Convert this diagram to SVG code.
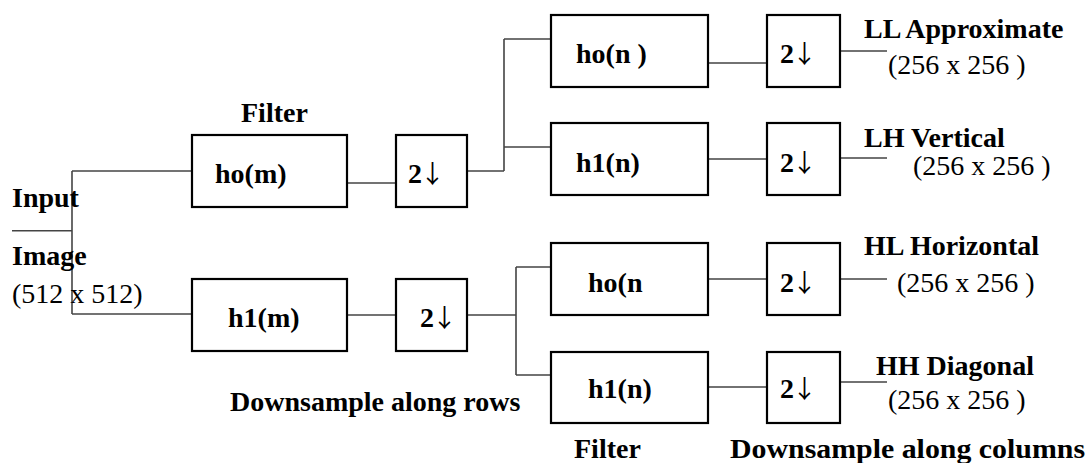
<svg xmlns="http://www.w3.org/2000/svg" width="1090" height="463" viewBox="0 0 1090 463">
  <style>
    .box { fill: #fff; stroke: #000; stroke-width: 2.2; }
    .wire { fill: none; stroke: #444; stroke-width: 1.6; }
    .b { font-family: "Liberation Serif", "Times New Roman", serif; font-weight: bold; font-size: 28px; fill: #000; }
    .r { font-family: "Liberation Serif", "Times New Roman", serif; font-weight: normal; font-size: 28px; fill: #000; }
    .arr { font-family: "Noto Sans CJK JP", "DejaVu Sans", sans-serif; font-weight: normal; font-size: 25px; fill: #000; }
  </style>

  <!-- connectors -->
  <g id="connectors">
    <path class="wire" d="M12 230.7 H72"/>
    <path class="wire" d="M72 171 V314"/>
    <path class="wire" d="M72 171 H192"/>
    <path class="wire" d="M72 314 H192"/>
    <path class="wire" d="M347 183 H396"/>
    <path class="wire" d="M347 315 H396"/>
    <path class="wire" d="M467 171 H504 M504 39 V171 M504 39 H551 M504 147 H551"/>
    <path class="wire" d="M467 315 H516 M516 267 V375 M516 267 H551 M516 375 H551"/>
    <path class="wire" d="M708 63 H767 M708 159 H767 M708 279 H767 M708 387 H767"/>
    <path class="wire" d="M840 51 H887 M840 158 H887 M840 279 H887 M840 382 H887"/>
  </g>

  <!-- input labels -->
  <g id="input">
    <text class="b" x="12" y="207">Input</text>
    <text class="b" x="12" y="265">Image</text>
    <text class="r" x="12" y="303">(512 x 512)</text>
  </g>

  <!-- row stage -->
  <g id="filter-row-lo">
    <text class="b" x="241" y="122">Filter</text>
    <rect class="box" x="192" y="135" width="155" height="72"/>
    <text class="b" x="215" y="183">ho(m)</text>
  </g>
  <g id="down-row-lo">
    <rect class="box" x="396" y="135" width="71" height="72"/>
    <text class="b" x="408" y="183">2<tspan class="arr" dx="-2">↓</tspan></text>
  </g>
  <g id="filter-row-hi">
    <rect class="box" x="192" y="279" width="155" height="72"/>
    <text class="b" x="228" y="327">h1(m)</text>
  </g>
  <g id="down-row-hi">
    <rect class="box" x="396" y="279" width="71" height="72"/>
    <text class="b" x="420" y="327">2<tspan class="arr" dx="-2">↓</tspan></text>
  </g>
  <text class="b" x="230" y="411">Downsample along rows</text>

  <!-- column stage filters -->
  <g id="filter-ll">
    <rect class="box" x="551" y="15" width="157" height="72"/>
    <text class="b" x="576" y="63">ho(n )</text>
  </g>
  <g id="filter-lh">
    <rect class="box" x="551" y="123" width="157" height="72"/>
    <text class="b" x="576" y="172">h1(n)</text>
  </g>
  <g id="filter-hl">
    <rect class="box" x="551" y="243" width="157" height="72"/>
    <text class="b" x="588" y="292">ho(n</text>
  </g>
  <g id="filter-hh">
    <rect class="box" x="551" y="352" width="157" height="71"/>
    <text class="b" x="588" y="398">h1(n)</text>
  </g>
  <text class="b" x="574" y="458">Filter</text>

  <!-- column stage downsamplers -->
  <g id="down-ll">
    <rect class="box" x="767" y="15" width="73" height="72"/>
    <text class="b" x="780" y="63">2<tspan class="arr" dx="-2">↓</tspan></text>
  </g>
  <g id="down-lh">
    <rect class="box" x="767" y="123" width="73" height="72"/>
    <text class="b" x="780" y="172">2<tspan class="arr" dx="-2">↓</tspan></text>
  </g>
  <g id="down-hl">
    <rect class="box" x="767" y="243" width="73" height="72"/>
    <text class="b" x="780" y="292">2<tspan class="arr" dx="-2">↓</tspan></text>
  </g>
  <g id="down-hh">
    <rect class="box" x="767" y="352" width="73" height="71"/>
    <text class="b" x="780" y="398">2<tspan class="arr" dx="-2">↓</tspan></text>
  </g>
  <text class="b" x="730" y="458" textLength="355" lengthAdjust="spacingAndGlyphs">Downsample along columns</text>

  <!-- outputs -->
  <g id="out-ll">
    <text class="b" x="864" y="38">LL Approximate</text>
    <text class="r" x="888" y="74">(256 x 256 )</text>
  </g>
  <g id="out-lh">
    <text class="b" x="864" y="147">LH Vertical</text>
    <text class="r" x="913" y="175">(256 x 256 )</text>
  </g>
  <g id="out-hl">
    <text class="b" x="864" y="255">HL Horizontal</text>
    <text class="r" x="897" y="292">(256 x 256 )</text>
  </g>
  <g id="out-hh">
    <text class="b" x="876" y="375">HH Diagonal</text>
    <text class="r" x="888" y="409">(256 x 256 )</text>
  </g>
</svg>
